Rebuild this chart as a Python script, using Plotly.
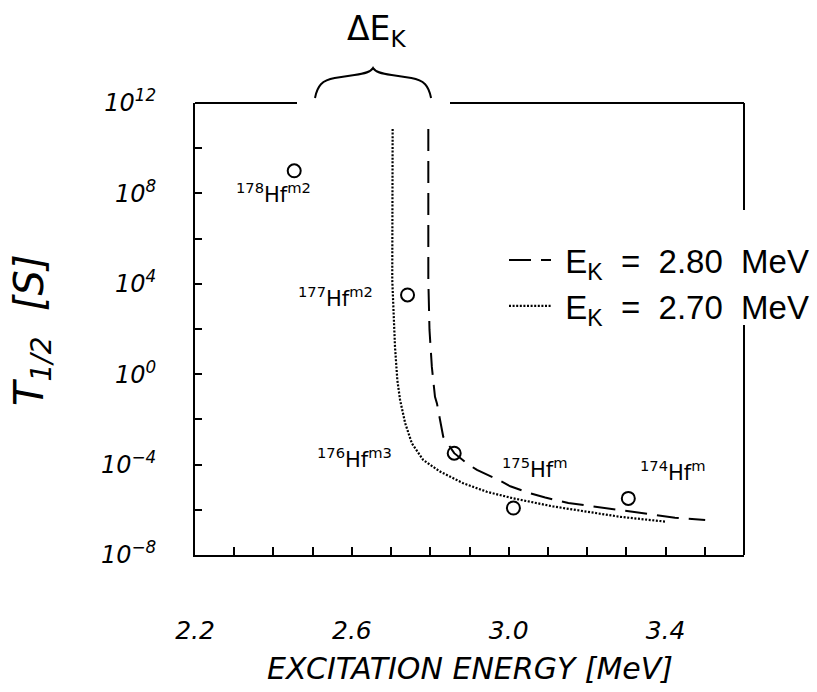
import plotly.graph_objects as go

# ---------------- data ----------------
# calculated half-life curves, E_K = 2.80 MeV (dashed)
ek280_energy = [2.795, 2.795, 2.798, 2.804, 2.812, 2.817, 2.833, 2.861, 2.893, 2.919,
                2.974, 3.004, 3.055, 3.093, 3.152, 3.242, 3.331, 3.424, 3.501]
ek280_halflife = [7.1e10, 1.5e4, 91, 2.1, 0.10, 0.051, 1.7e-3, 3.2e-4, 1.15e-4, 5.8e-5,
                  2.1e-5, 1.1e-5, 5.4e-6, 3.5e-6, 2.0e-6, 1.2e-6, 7.4e-7, 4.5e-7, 3.5e-7]

# E_K = 2.70 MeV (dotted)
ek270_energy = [2.704, 2.703, 2.710, 2.716, 2.723, 2.736, 2.753, 2.782, 2.825, 2.884,
                2.944, 3.012, 3.114, 3.199, 3.284, 3.399]
ek270_halflife = [7.1e10, 1.5e4, 16.6, 0.54, 0.072, 6.8e-3, 8.7e-4, 1.6e-4, 4.9e-5, 1.5e-5,
                  6.3e-6, 3.2e-6, 1.4e-6, 8.3e-7, 4.9e-7, 3.0e-7]

# measured isomers
isomer_energy = [2.453, 2.742, 2.861, 3.012, 3.305]
isomer_halflife = [1.0e9, 3.2e3, 3.2e-4, 1.2e-6, 3.2e-6]
isomer_names = ["<sup>178</sup>Hf<sup>m2</sup>", "<sup>177</sup>Hf<sup>m2</sup>",
                "<sup>176</sup>Hf<sup>m3</sup>", "<sup>175</sup>Hf<sup>m</sup>",
                "<sup>174</sup>Hf<sup>m</sup>"]
label_energy = [2.400, 2.558, 2.606, 3.067, 3.419]
label_log10 = [8.0, 3.4, -3.7, -4.15, -4.28]

# axes
x_label_vals = [2.2, 2.6, 3.0, 3.4]
x_label_text = ["2.2", "2.6", "3.0", "3.4"]
x_minor_vals = [2.3, 2.4, 2.5, 2.7, 2.8, 2.9, 3.1, 3.2, 3.3, 3.5]
y_label_exps = [-8, -4, 0, 4, 8, 12]
y_label_text = ["10<sup>−8</sup>", "10<sup>−4</sup>", "10<sup>0</sup>",
                "10<sup>4</sup>", "10<sup>8</sup>", "10<sup>12</sup>"]
y_minor_exps = [-6, -2, 2, 6, 10]
delta_ek_range = [2.506, 2.802]

FONT = "DejaVu Sans"
W, H = 817, 692

fig = go.Figure()

fig.add_trace(go.Scatter(
    x=ek280_energy, y=ek280_halflife, mode="lines",
    line=dict(color="black", width=2, dash="22px,10px"),
    name="\u00a0E<sub>K</sub>\u00a0\u00a0=\u00a0\u00a02.80\u00a0\u00a0MeV"))
fig.add_trace(go.Scatter(
    x=ek270_energy, y=ek270_halflife, mode="lines",
    line=dict(color="black", width=2.2, dash="2px,1.6px"),
    name="\u00a0E<sub>K</sub>\u00a0\u00a0=\u00a0\u00a02.70\u00a0\u00a0MeV"))
fig.add_trace(go.Scatter(
    x=isomer_energy, y=isomer_halflife, mode="markers", showlegend=False,
    marker=dict(symbol="circle-open", size=13, color="black", line=dict(width=2))))

for xe, yl, txt in zip(label_energy, label_log10, isomer_names):
    fig.add_annotation(x=xe, y=yl, xref="x", yref="y", text=txt, showarrow=False,
                       xanchor="center", yanchor="middle",
                       font=dict(family=FONT, size=21, color="black"))

# frame pieces (top and right are broken)
def px_x(p):
    return (p - 195) / 549.0

def px_y(p):
    return (555 - p) / 452.0

for x0, x1 in [(0, px_x(297)), (px_x(450), 1)]:
    fig.add_shape(type="line", xref="paper", yref="paper", x0=x0, x1=x1, y0=1, y1=1,
                  line=dict(color="black", width=2))
for y0, y1 in [(px_y(210), 1), (0, px_y(325))]:
    fig.add_shape(type="line", xref="paper", yref="paper", x0=1, x1=1, y0=y0, y1=y1,
                  line=dict(color="black", width=2))

# brace over Delta E_K
xa, xb = delta_ek_range
xm = (xa + xb) / 2
w = xb - xa
def bx(f):
    return xa + f * w
yb0, yb2, ypk = px_y(98), px_y(75), px_y(68)
path = (f"M {bx(0):.4f},{yb0:.4f} "
        f"C {bx(0.02):.4f},{px_y(86):.4f} {bx(0.06):.4f},{px_y(80):.4f} {bx(0.17):.4f},{px_y(78):.4f} "
        f"L {bx(0.34):.4f},{yb2:.4f} "
        f"C {bx(0.43):.4f},{px_y(73.5):.4f} {bx(0.48):.4f},{px_y(72):.4f} {xm:.4f},{ypk:.4f} "
        f"C {bx(0.52):.4f},{px_y(72):.4f} {bx(0.57):.4f},{px_y(73.5):.4f} {bx(0.66):.4f},{yb2:.4f} "
        f"L {bx(0.83):.4f},{px_y(78):.4f} "
        f"C {bx(0.94):.4f},{px_y(80):.4f} {bx(0.98):.4f},{px_y(86):.4f} {bx(1):.4f},{yb0:.4f}")
fig.add_shape(type="path", xref="x", yref="paper", path=path,
              line=dict(color="black", width=2))
fig.add_annotation(x=xm + 0.01, y=px_y(31), xref="x", yref="paper",
                   text="ΔE<sub>K</sub>", showarrow=False,
                   xanchor="center", yanchor="middle",
                   font=dict(family=FONT, size=33, color="black"))

# axis titles
fig.add_annotation(x=px_x(32), y=px_y(330), xref="paper", yref="paper", textangle=-90,
                   text="T<sub>1/2</sub>\u00a0\u00a0[S]", showarrow=False,
                   xanchor="center", yanchor="middle",
                   font=dict(family=FONT, size=40, color="black", style="italic"))
fig.add_annotation(x=0.5, y=px_y(668), xref="paper", yref="paper",
                   text="EXCITATION ENERGY [MeV]", showarrow=False,
                   xanchor="center", yanchor="middle",
                   font=dict(family=FONT, size=30, color="black", style="italic"))

fig.update_xaxes(range=[2.2, 3.6], tickmode="array", tickvals=x_label_vals,
                 ticktext=x_label_text,
                 ticks="inside", ticklen=8, tickwidth=1.5, tickcolor="black",
                 minor=dict(tickmode="array", tickvals=x_minor_vals, ticks="inside",
                            ticklen=8, tickwidth=1.5, tickcolor="black", showgrid=False),
                 showline=True, linewidth=2, linecolor="black", mirror=False,
                 showgrid=False, zeroline=False, ticklabelstandoff=52,
                 tickfont=dict(family=FONT, size=25, color="black", style="italic"))
fig.update_yaxes(type="log", range=[-8, 12], tickmode="array",
                 tickvals=[10.0 ** e for e in y_label_exps], ticktext=y_label_text,
                 ticks="inside", ticklen=7, tickwidth=1.5, tickcolor="black",
                 minor=dict(tickmode="array", tickvals=[10.0 ** e for e in y_minor_exps],
                            ticks="inside", ticklen=7, tickwidth=1.5, tickcolor="black",
                            showgrid=False),
                 showline=True, linewidth=2, linecolor="black", mirror=False,
                 showgrid=False, zeroline=False, ticklabelstandoff=32,
                 tickfont=dict(family=FONT, size=24, color="black", style="italic"))

fig.update_layout(
    width=W, height=H, autosize=False,
    margin=dict(l=195, r=73, t=103, b=137, autoexpand=False),
    paper_bgcolor="white", plot_bgcolor="white",
    showlegend=True,
    legend=dict(xref="container", yref="container",
                x=504 / W, y=1 - 232 / H, xanchor="left", yanchor="top",
                bgcolor="rgba(0,0,0,0)", borderwidth=0, itemwidth=42,
                font=dict(family="Liberation Sans", size=33, color="black")),
)

fig.write_html("out.html")
